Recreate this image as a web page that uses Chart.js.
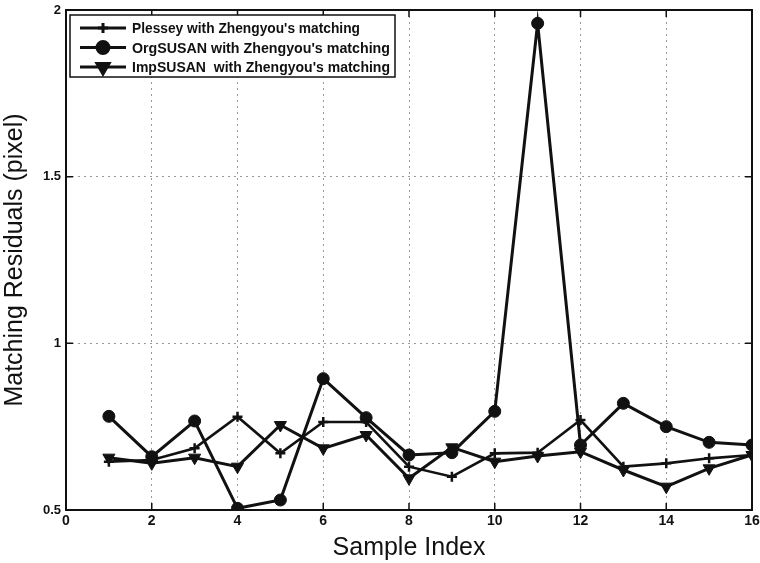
<!DOCTYPE html>
<html>
<head>
<meta charset="utf-8">
<script src="https://cdn.jsdelivr.net/npm/chart.js@4/dist/chart.umd.min.js"></script>
<style>
  html, body { margin: 0; padding: 0; background: #fff; }
  #wrap { width: 760px; height: 563px; }
</style>
</head>
<body>
<div id="wrap"><canvas id="chart"></canvas></div>
<script>
'use strict';

const sample_index = [1, 2, 3, 4, 5, 6, 7, 8, 9, 10, 11, 12, 13, 14, 15, 16];
const plessey = [0.645, 0.65, 0.685, 0.78, 0.67, 0.764, 0.764, 0.63, 0.60, 0.67, 0.672, 0.77, 0.63, 0.64, 0.655, 0.665];
const org_susan = [0.781, 0.66, 0.767, 0.505, 0.53, 0.894, 0.777, 0.665, 0.672, 0.796, 1.96, 0.695, 0.82, 0.75, 0.703, 0.695];
const imp_susan = [0.657, 0.64, 0.657, 0.63, 0.755, 0.685, 0.725, 0.595, 0.688, 0.645, 0.662, 0.675, 0.62, 0.57, 0.625, 0.665];
const series_labels = [
    'Plessey with Zhengyou\'s matching',
    'OrgSUSAN with Zhengyou\'s matching',
    'ImpSUSAN  with Zhengyou\'s matching'
];
const x_ticks = [0, 2, 4, 6, 8, 10, 12, 14, 16];
const y_ticks = [0.5, 1, 1.5, 2];
const y_tick_labels = ['0.5', '1', '1.5', '2'];

const FONT = '"Liberation Sans", Arial, sans-serif';

function to_points(values) {
    return values.map((v, i) => ({ x: sample_index[i], y: v }));
}

const styles = [
    { pointStyle: 'cross', radius: 5, width: 2.6, rot: 0, pointBorder: 2.5 },
    { pointStyle: 'circle', radius: 6, width: 3, rot: 0, pointBorder: 1 },
    { pointStyle: 'triangle', radius: 7, width: 3, rot: 180, pointBorder: 1 }
];

function make_dataset(values, idx) {
    const s = styles[idx];
    return {
        label: series_labels[idx],
        data: to_points(values),
        borderColor: '#111',
        backgroundColor: '#111',
        borderWidth: s.width,
        pointStyle: s.pointStyle,
        pointRadius: s.radius,
        pointRotation: s.rot,
        pointBorderWidth: s.pointBorder,
        pointBorderColor: '#111',
        pointBackgroundColor: '#111',
        tension: 0,
    };
}

const frame_plugin = {
    id: 'frame',
    afterDraw(chart) {
        const ctx = chart.ctx;
        const a = chart.chartArea;
        const xs = chart.scales.x;
        const ys = chart.scales.y;
        ctx.save();
        ctx.strokeStyle = '#111';
        ctx.lineWidth = 2;
        ctx.strokeRect(a.left, a.top, a.right - a.left, a.bottom - a.top);
        // inward ticks
        ctx.lineWidth = 1.5;
        x_ticks.forEach((t) => {
            const px = xs.getPixelForValue(t);
            ctx.beginPath();
            ctx.moveTo(px, a.bottom); ctx.lineTo(px, a.bottom - 7);
            ctx.moveTo(px, a.top); ctx.lineTo(px, a.top + 7);
            ctx.stroke();
        });
        y_ticks.forEach((t) => {
            const py = ys.getPixelForValue(t);
            ctx.beginPath();
            ctx.moveTo(a.left, py); ctx.lineTo(a.left + 7, py);
            ctx.moveTo(a.right, py); ctx.lineTo(a.right - 7, py);
            ctx.stroke();
        });

        // legend box
        const bx = a.left + 4, by = a.top + 5, bw = 325, bh = 62;
        ctx.fillStyle = '#fff';
        ctx.fillRect(bx, by, bw, bh);
        ctx.lineWidth = 1.5;
        ctx.strokeRect(bx, by, bw, bh);
        ctx.font = 'bold 15px ' + FONT;
        ctx.textBaseline = 'middle';
        chart.data.datasets.forEach((ds, i) => {
            const cy = by + 13 + i * 19.5;
            ctx.strokeStyle = '#111';
            ctx.lineWidth = 3;
            ctx.beginPath();
            ctx.moveTo(bx + 10, cy); ctx.lineTo(bx + 56, cy);
            ctx.stroke();
            const s = styles[i];
            Chart.helpers.drawPoint(ctx, {
                pointStyle: s.pointStyle,
                rotation: s.rot,
                radius: s.radius,
                borderWidth: s.pointBorder,
            }, bx + 33, cy);
            ctx.fillStyle = '#111';
            // condensed text like the original typeface
            const full = ctx.measureText(ds.label).width;
            const max_w = i === 0 ? 228 : 258;
            ctx.fillText(ds.label, bx + 62, cy + 1, Math.min(full, max_w));
        });
        ctx.restore();
    }
};

document.addEventListener('DOMContentLoaded', function(_event) {
    const ctx = document.getElementById('chart').getContext('2d');
    new Chart(ctx, {
        type: 'line',
        data: {
            datasets: [
                make_dataset(plessey, 0),
                make_dataset(org_susan, 1),
                make_dataset(imp_susan, 2),
            ]
        },
        options: {
            responsive: true,
            maintainAspectRatio: false,
            animation: false,
            layout: { padding: { top: 10, right: 7, left: 0, bottom: 0 } },
            plugins: {
                legend: { display: false },
                tooltip: { enabled: false },
            },
            scales: {
                x: {
                    type: 'linear',
                    min: 0,
                    max: 16,
                    afterBuildTicks: (scale) => { scale.ticks = x_ticks.map(v => ({ value: v })); },
                    afterFit: (scale) => {
                        scale.height = 53;
                        scale.paddingLeft = 0;
                        scale.paddingRight = 0;
                    },
                    grid: {
                        color: '#999',
                        lineWidth: 1,
                        drawTicks: false,
                    },
                    border: { display: false, dash: [2, 4] },
                    ticks: {
                        color: '#111',
                        padding: 3,
                        font: { family: FONT, size: 14, weight: 'bold' },
                    },
                    title: {
                        display: true,
                        text: 'Sample Index',
                        color: '#111',
                        font: { family: FONT, size: 25 },
                        padding: { top: 0, bottom: 0 },
                    },
                },
                y: {
                    min: 0.5,
                    max: 2,
                    afterBuildTicks: (scale) => { scale.ticks = y_ticks.map(v => ({ value: v })); },
                    afterFit: (scale) => {
                        scale.width = 66;
                        scale.paddingTop = 0;
                        scale.paddingBottom = 0;
                    },
                    grid: {
                        color: '#999',
                        lineWidth: 1,
                        drawTicks: false,
                    },
                    border: { display: false, dash: [2, 4] },
                    ticks: {
                        color: '#111',
                        padding: 5,
                        font: { family: FONT, size: 13, weight: 'bold' },
                        callback: (value) => y_tick_labels[y_ticks.indexOf(value)],
                    },
                    title: {
                        display: true,
                        text: 'Matching Residuals (pixel)',
                        color: '#111',
                        font: { family: FONT, size: 25 },
                        padding: { top: 0, bottom: 2 },
                    },
                },
            },
        },
        plugins: [frame_plugin],
    });
});
</script>
</body>
</html>
